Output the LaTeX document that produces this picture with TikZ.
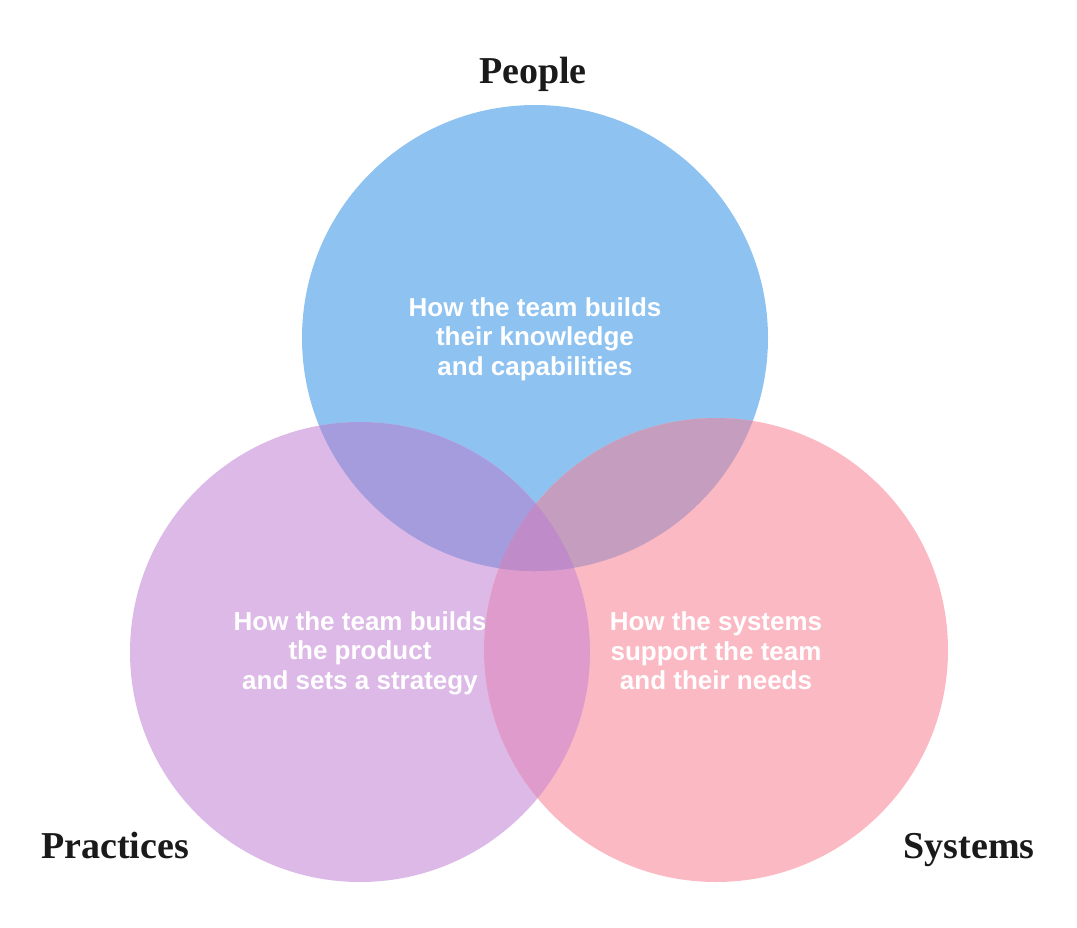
\documentclass[tikz,border=0pt]{standalone}
\usepackage{fontspec}
\setmainfont{Liberation Serif}
\setsansfont{Liberation Sans}
\usepackage{tikz}
\usetikzlibrary{positioning}

\definecolor{peopleblue}{HTML}{8EC2F0}
\definecolor{practicepurple}{HTML}{DCB9E6}
\definecolor{systempink}{HTML}{FBB9C4}
\definecolor{bluepurple}{HTML}{A59CDD}
\definecolor{bluepink}{HTML}{C59EBF}
\definecolor{purplepink}{HTML}{DF9BCB}
\definecolor{allthree}{HTML}{BF8BC8}
\definecolor{titleink}{HTML}{1A1A1A}

\begin{document}
\begin{tikzpicture}[
  x=1pt, y=-1pt,
  title/.style={font=\bfseries\fontsize{38}{40}\selectfont, text=titleink,
                anchor=base, inner sep=0pt},
  blurb/.style={font=\sffamily\bfseries\fontsize{26}{29.5}\selectfont,
                text=white, align=center, inner sep=0pt}
]
\useasboundingbox (0,0) rectangle (1077,927);
\coordinate (people) at (535,338);
\coordinate (practices) at (360,652);
\coordinate (systems) at (716,650);
% the three circles
\fill[peopleblue] (people) circle[radius=233pt];
\fill[practicepurple] (practices) circle[radius=230pt];
\fill[systempink] (systems) circle[radius=232pt];
% overlaps
\begin{scope}
  \clip (practices) circle[radius=230pt];
  \fill[purplepink] (systems) circle[radius=232pt];
\end{scope}
\begin{scope}
  \clip (people) circle[radius=233pt];
  \fill[bluepurple] (practices) circle[radius=230pt];
  \fill[bluepink] (systems) circle[radius=232pt];
  \clip (practices) circle[radius=230pt];
  \fill[allthree] (systems) circle[radius=232pt];
\end{scope}
% texts
\node[blurb] (peopletext) at (535,339) {How the team builds\\their knowledge\\and capabilities};
\node[blurb] (practicestext) at (360,653) {How the team builds\\the product\\and sets a strategy};
\node[blurb] (systemstext) at (716,651) {How the systems\\support the team\\and their needs};
\node[title] (peoplelabel) at (533,83) {People};
\node[title] (practiceslabel) at (115,858) {Practices};
\node[title] (systemslabel) at (969,858) {Systems};
\end{tikzpicture}
\end{document}
